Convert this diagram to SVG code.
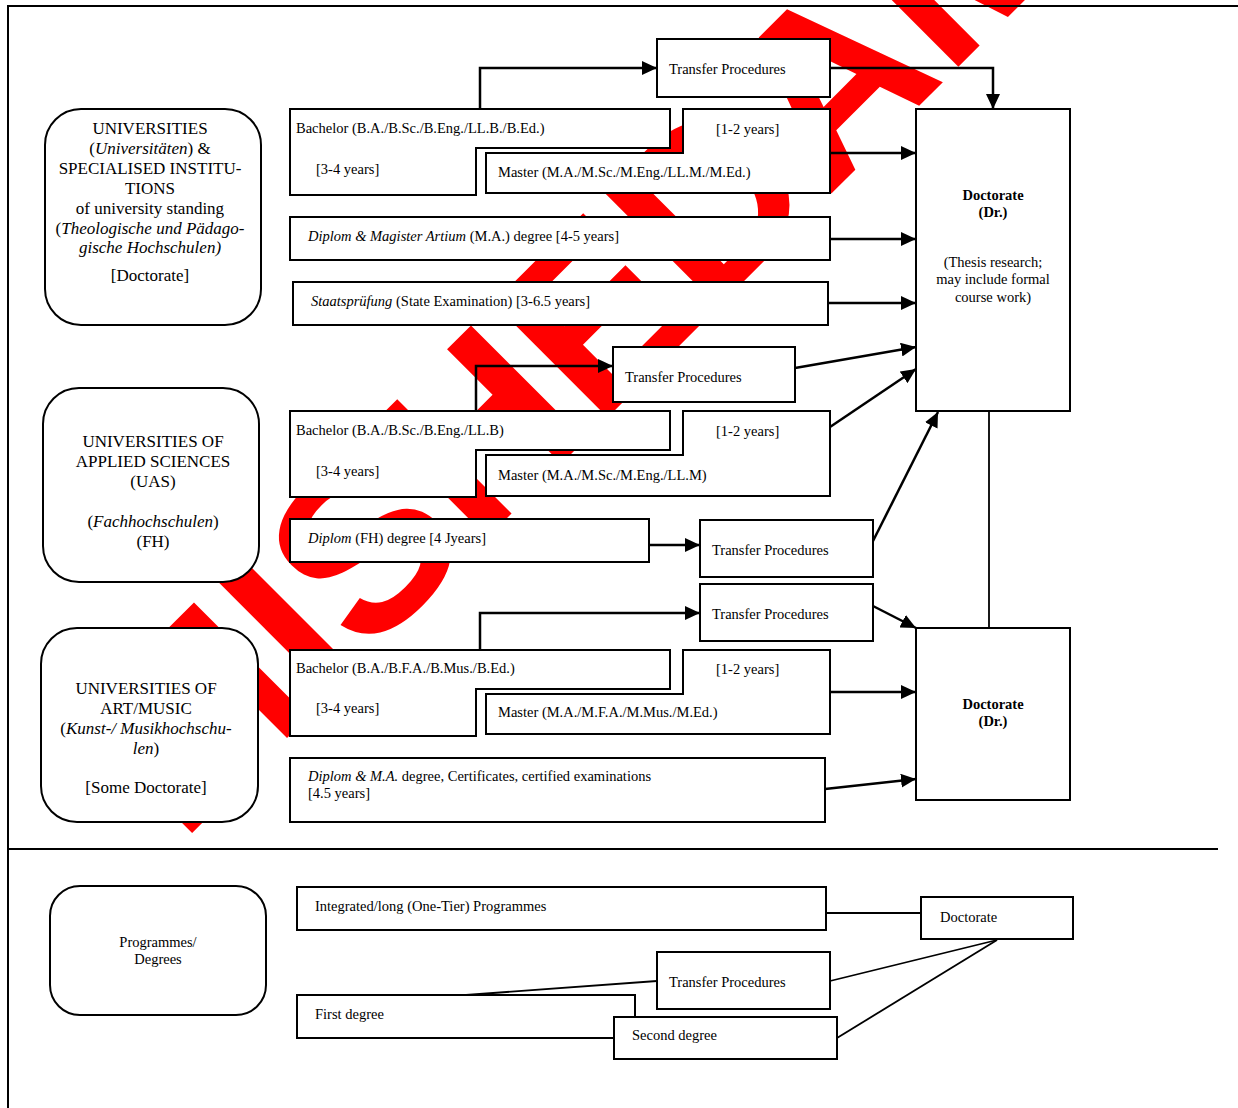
<svg xmlns="http://www.w3.org/2000/svg" width="1238" height="1108" viewBox="0 0 1238 1108">
<defs>
<style>
.box{fill:#fff;stroke:#000;stroke-width:2}
.rb{fill:#fff;stroke:#000;stroke-width:2}
.t{font-family:"Liberation Serif","Times New Roman",serif;font-size:14.5px;fill:#000}
.b{font-family:"Liberation Serif","Times New Roman",serif;font-size:17px;fill:#000}
.c{font-family:"Liberation Serif","Times New Roman",serif;font-size:14.5px;fill:#000;text-anchor:middle}
.bold{font-weight:bold}
.i{font-style:italic}
.conn{fill:none;stroke:#000;stroke-width:2.5}
.thin{fill:none;stroke:#000;stroke-width:1.8}
.frame{fill:none;stroke:#000;stroke-width:2}
.wm{font-family:"Liberation Sans",Arial,sans-serif;font-weight:bold;font-size:235px;fill:#ff0000}
</style>
<marker id="ah" markerUnits="userSpaceOnUse" viewBox="0 0 15 14" refX="15" refY="7" markerWidth="15" markerHeight="14" orient="auto">
<path d="M0,0 L15,7 L0,14 z" fill="#000"/>
</marker>
</defs>
<rect x="0" y="0" width="1238" height="1108" fill="#fff"/>

<g id="watermark">
<text class="wm" transform="translate(181,844) rotate(-45)" x="0" y="0">MISHEDAM</text>
</g>

<g id="frame">
<path class="frame" d="M8,1108 V6 H1238"/>
<path class="frame" d="M8,849 H1218"/>
</g>

<!-- Section 1: Universities -->
<g id="uni">
<rect class="rb" x="45" y="109" width="216" height="216" rx="36"/>
<text class="b" text-anchor="middle" x="150" y="134">UNIVERSITIES</text>
<text class="b" text-anchor="middle" x="150" y="154">(<tspan class="i">Universitäten</tspan>) &amp;</text>
<text class="b" text-anchor="middle" x="150" y="174">SPECIALISED INSTITU-</text>
<text class="b" text-anchor="middle" x="150" y="194">TIONS</text>
<text class="b" text-anchor="middle" x="150" y="214">of university standing</text>
<text class="b" text-anchor="middle" x="150" y="234">(<tspan class="i">Theologische und Pädago-</tspan></text>
<text class="b i" text-anchor="middle" x="150" y="253">gische Hochschulen)</text>
<text class="b" text-anchor="middle" x="150" y="281">[Doctorate]</text>
</g>
<g id="transfer1">
<rect class="box" x="657" y="39" width="173" height="58"/>
<text class="t" x="669" y="74">Transfer Procedures</text>
</g>
<g id="bachelor1">
<path class="box" d="M290,109 H670 V148 H476 V195 H290 Z"/>
<text class="t" x="296" y="133">Bachelor (B.A./B.Sc./B.Eng./LL.B./B.Ed.)</text>
<text class="t" x="316" y="174">[3-4 years]</text>
</g>
<g id="master1">
<path class="box" d="M683,109 H830 V193 H486 V153 H683 Z"/>
<text class="t" x="716" y="134">[1-2 years]</text>
<text class="t" x="498" y="177">Master (M.A./M.Sc./M.Eng./LL.M./M.Ed.)</text>
</g>
<g id="diplom1">
<rect class="box" x="290" y="217" width="540" height="43"/>
<text class="t" x="308" y="241"><tspan class="i">Diplom &amp; Magister Artium</tspan> (M.A.) degree [4-5 years]</text>
</g>
<g id="staats">
<rect class="box" x="293" y="282" width="535" height="43"/>
<text class="t" x="311" y="306"><tspan class="i">Staatsprüfung</tspan> (State Examination) [3-6.5 years]</text>
</g>
<g id="doc1">
<rect class="box" x="916" y="109" width="154" height="302"/>
<text class="c bold" x="993" y="200">Doctorate</text>
<text class="c bold" x="993" y="217">(Dr.)</text>
<text class="c" x="993" y="267">(Thesis research;</text>
<text class="c" x="993" y="284">may include formal</text>
<text class="c" x="993" y="302">course work)</text>
</g>

<!-- Section 2: UAS -->
<g id="uas">
<rect class="rb" x="43" y="388" width="216" height="194" rx="36"/>
<text class="b" text-anchor="middle" x="153" y="447">UNIVERSITIES OF</text>
<text class="b" text-anchor="middle" x="153" y="467">APPLIED SCIENCES</text>
<text class="b" text-anchor="middle" x="153" y="487">(UAS)</text>
<text class="b" text-anchor="middle" x="153" y="527">(<tspan class="i">Fachhochschulen</tspan>)</text>
<text class="b" text-anchor="middle" x="153" y="547">(FH)</text>
</g>
<g id="transfer2">
<rect class="box" x="613" y="347" width="182" height="55"/>
<text class="t" x="625" y="382">Transfer Procedures</text>
</g>
<g id="bachelor2">
<path class="box" d="M290,411 H670 V450 H476 V497 H290 Z"/>
<text class="t" x="296" y="435">Bachelor (B.A./B.Sc./B.Eng./LL.B)</text>
<text class="t" x="316" y="476">[3-4 years]</text>
</g>
<g id="master2">
<path class="box" d="M683,411 H830 V496 H486 V455 H683 Z"/>
<text class="t" x="716" y="436">[1-2 years]</text>
<text class="t" x="498" y="480">Master (M.A./M.Sc./M.Eng./LL.M)</text>
</g>
<g id="diplomfh">
<rect class="box" x="290" y="519" width="359" height="43"/>
<text class="t" x="308" y="543"><tspan class="i">Diplom</tspan> (FH) degree [4 Jyears]</text>
</g>
<g id="transfer3">
<rect class="box" x="700" y="520" width="173" height="57"/>
<text class="t" x="712" y="555">Transfer Procedures</text>
</g>

<!-- Section 3: Art/Music -->
<g id="art">
<rect class="rb" x="41" y="628" width="217" height="194" rx="36"/>
<text class="b" text-anchor="middle" x="146" y="694">UNIVERSITIES OF</text>
<text class="b" text-anchor="middle" x="146" y="714">ART/MUSIC</text>
<text class="b" text-anchor="middle" x="146" y="734">(<tspan class="i">Kunst-/ Musikhochschu-</tspan></text>
<text class="b" text-anchor="middle" x="146" y="754"><tspan class="i">len</tspan>)</text>
<text class="b" text-anchor="middle" x="146" y="793">[Some Doctorate]</text>
</g>
<g id="transfer4">
<rect class="box" x="700" y="584" width="173" height="57"/>
<text class="t" x="712" y="619">Transfer Procedures</text>
</g>
<g id="bachelor3">
<path class="box" d="M290,650 H670 V689 H476 V736 H290 Z"/>
<text class="t" x="296" y="673">Bachelor (B.A./B.F.A./B.Mus./B.Ed.)</text>
<text class="t" x="316" y="713">[3-4 years]</text>
</g>
<g id="master3">
<path class="box" d="M683,650 H830 V734 H486 V694 H683 Z"/>
<text class="t" x="716" y="674">[1-2 years]</text>
<text class="t" x="498" y="717">Master (M.A./M.F.A./M.Mus./M.Ed.)</text>
</g>
<g id="diplom3">
<rect class="box" x="290" y="758" width="535" height="64"/>
<text class="t" x="308" y="781"><tspan class="i">Diplom &amp; M.A.</tspan> degree, Certificates, certified examinations</text>
<text class="t" x="308" y="798">[4.5 years]</text>
</g>
<g id="doc2">
<rect class="box" x="916" y="628" width="154" height="172"/>
<text class="c bold" x="993" y="709">Doctorate</text>
<text class="c bold" x="993" y="726">(Dr.)</text>
</g>

<!-- Section 4: legend -->
<g id="programmes">
<rect class="rb" x="50" y="886" width="216" height="129" rx="30"/>
<text class="c" x="158" y="947">Programmes/</text>
<text class="c" x="158" y="964">Degrees</text>
</g>
<g id="integrated">
<rect class="box" x="297" y="887" width="529" height="43"/>
<text class="t" x="315" y="911">Integrated/long (One-Tier) Programmes</text>
</g>
<g id="docsmall">
<rect class="box" x="921" y="897" width="152" height="42"/>
<text class="t" x="940" y="922">Doctorate</text>
</g>
<g id="transfer5">
<rect class="box" x="657" y="952" width="173" height="57"/>
<text class="t" x="669" y="987">Transfer Procedures</text>
</g>
<g id="first">
<rect class="box" x="297" y="995" width="338" height="43"/>
<text class="t" x="315" y="1019">First degree</text>
</g>
<g id="second">
<rect class="box" x="614" y="1017" width="223" height="42"/>
<text class="t" x="632" y="1040">Second degree</text>
</g>

<g id="connectors">
<path class="conn" d="M480,109 V68 H657" marker-end="url(#ah)"/>
<path class="conn" d="M830,68 H993 V109" marker-end="url(#ah)"/>
<path class="conn" d="M830,153 H916" marker-end="url(#ah)"/>
<path class="conn" d="M830,239 H916" marker-end="url(#ah)"/>
<path class="conn" d="M828,303 H916" marker-end="url(#ah)"/>
<path class="conn" d="M476,411 V366 H613" marker-end="url(#ah)"/>
<path class="conn" d="M795,368 L916,347" marker-end="url(#ah)"/>
<path class="conn" d="M830,427 L916,369" marker-end="url(#ah)"/>
<path class="conn" d="M649,545 H700" marker-end="url(#ah)"/>
<path class="conn" d="M873,541 L938,412" marker-end="url(#ah)"/>
<path class="conn" d="M480,650 V613 H700" marker-end="url(#ah)"/>
<path class="conn" d="M873,606 L916,628" marker-end="url(#ah)"/>
<path class="conn" d="M830,692 H916" marker-end="url(#ah)"/>
<path class="conn" d="M825,789 L916,779" marker-end="url(#ah)"/>
<path class="thin" d="M989,411 V628"/>
<path class="thin" d="M826,913 H921"/>
<path class="thin" d="M466,995 L657,981"/>
<path class="thin" d="M830,981 L997,940"/>
<path class="thin" d="M837,1038 L997,940"/>
</g>
</svg>
